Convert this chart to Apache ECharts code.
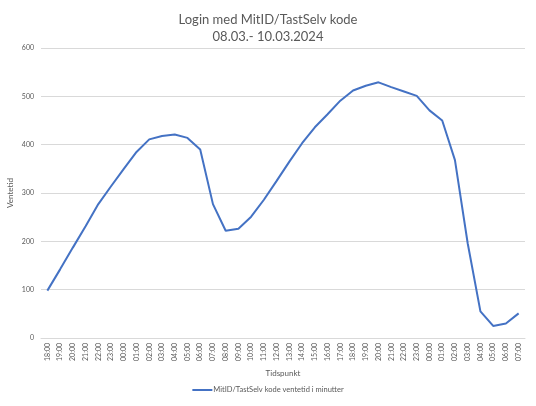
<!DOCTYPE html>
<html>
<head>
<meta charset="utf-8">
<script src="https://cdn.jsdelivr.net/npm/echarts@6/dist/echarts.min.js"></script>
<style>
    html, body { margin: 0; padding: 0; background: #fff; }
    #chart { width: 536px; height: 406px; }
</style>
</head>
<body>
<div id="chart"></div>
<script>
// Hours from 08.03 18:00 to 10.03 07:00
const hours = [
    '18:00', '19:00', '20:00', '21:00', '22:00', '23:00',
    '00:00', '01:00', '02:00', '03:00', '04:00', '05:00', '06:00', '07:00', '08:00', '09:00',
    '10:00', '11:00', '12:00', '13:00', '14:00', '15:00', '16:00', '17:00', '18:00', '19:00',
    '20:00', '21:00', '22:00', '23:00',
    '00:00', '01:00', '02:00', '03:00', '04:00', '05:00', '06:00', '07:00'
];

// Ventetid in minutes
const waitMinutes = [
    98, 142, 187, 231, 277, 314,
    350, 385, 411, 418, 421, 414, 390, 277, 222, 226,
    251, 286, 325, 365, 403, 436, 463, 491, 512, 522,
    529, 519, 510, 501,
    471, 450, 368, 196, 55, 25, 30, 51
];

const seriesName = 'MitID/TastSelv kode ventetid i minutter';
const yTicks = [0, 100, 200, 300, 400, 500, 600];

const fontFamily = 'Lato, "Open Sans", sans-serif';

const chart = echarts.init(document.getElementById('chart'));

const option = {
    backgroundColor: '#ffffff',
    textStyle: { fontFamily: fontFamily },
    title: {
        text: 'Login med MitID/TastSelv kode\n08.03.- 10.03.2024',
        left: 'center',
        top: 6,
        textStyle: {
            fontFamily: fontFamily,
            fontSize: 13,
            fontWeight: 'normal',
            color: '#595959',
            lineHeight: 17,
        },
    },
    grid: {
        left: 41,
        right: 11,
        top: 48,
        bottom: 68,
        outerBoundsMode: 'none',
    },
    xAxis: {
        type: 'category',
        data: hours,
        boundaryGap: true,
        name: 'Tidspunkt',
        nameLocation: 'middle',
        nameGap: 31,
        nameTextStyle: { fontSize: 8, color: '#595959' },
        axisLine: { lineStyle: { color: '#d9d9d9' } },
        axisTick: { show: false },
        axisLabel: {
            rotate: 90,
            interval: 0,
            fontSize: 7,
            color: '#595959',
            margin: 5,
        },
    },
    yAxis: {
        type: 'value',
        min: yTicks[0],
        max: yTicks[yTicks.length - 1],
        interval: 100,
        name: 'Ventetid',
        nameLocation: 'middle',
        nameGap: 27,
        nameMoveOverlap: false,
        nameTextStyle: { fontSize: 8, color: '#595959' },
        axisLine: { show: false },
        axisTick: { show: false },
        axisLabel: { fontSize: 7, color: '#595959', margin: 7 },
        splitLine: { lineStyle: { color: '#d9d9d9' } },
    },
    legend: {
        bottom: 7,
        left: 'center',
        itemWidth: 20,
        itemHeight: 2,
        itemGap: 4,
        icon: 'rect',
        textStyle: { fontSize: 7.5, color: '#595959', padding: [0, 0, 0, -4] },
        data: [seriesName],
    },
    series: [{
        name: seriesName,
        type: 'line',
        data: waitMinutes,
        symbol: 'none',
        lineStyle: { color: '#4472c4', width: 2 },
        itemStyle: { color: '#4472c4' },
    }],
};

chart.setOption(option);
</script>
</body>
</html>
